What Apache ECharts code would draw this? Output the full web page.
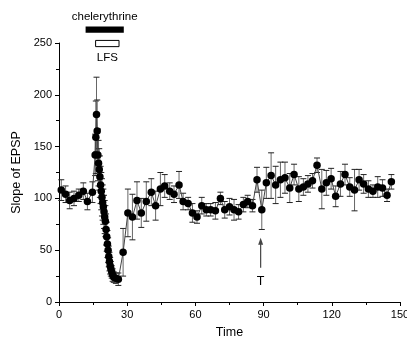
<!DOCTYPE html>
<html>
<head>
<meta charset="utf-8">
<script src="https://cdn.jsdelivr.net/npm/echarts@6/dist/echarts.min.js"></script>
<style>
html, body { margin: 0; padding: 0; background: #fff; }
#chart { width: 407px; height: 341px; }
</style>
</head>
<body>
<div id="chart"></div>
<script>
// time points (min)
var times = [1, 2.9, 4.7, 6.6, 8.7, 10.7, 12.5, 14.7,
    15.9, 16.2, 16.5, 16.8, 17.1, 17.4, 17.7, 18.0, 18.3, 18.6,
    18.9, 19.2, 19.5, 19.8, 20.1, 20.4, 20.7, 21.0, 21.3, 21.6,
    21.9, 22.2, 22.5, 22.8, 23.2, 23.6, 24.1, 25.0, 26.1, 28.2,
    30.3, 32.3, 34.3, 36.2, 38.4, 40.6, 42.5, 44.6, 46.5, 48.7,
    50.6, 52.8, 54.6, 56.8, 58.7, 60.7, 62.8, 64.8, 66.7, 68.8,
    71.0, 72.9, 75.0, 77.0, 79.0, 81.1, 83.0, 85.1, 87.1, 89.2,
    91.2, 93.3, 95.3, 97.4, 99.4, 101.5, 103.4, 105.5, 107.5, 109.5,
    111.5, 113.5, 115.6, 117.6, 119.7, 121.7, 123.8, 125.8, 127.9, 130.0,
    132.0, 134.0, 136.1, 138.1, 140.2, 142.3, 144.3, 146.2];

// slope of EPSP (% of baseline)
var slopes = [108, 104, 98, 100, 103, 107, 97, 106,
    142, 159, 181, 165, 142, 134, 128, 121, 113, 107,
    101, 96, 92, 87, 82, 78, 70, 63, 56, 50,
    44, 39, 35, 32, 29, 26, 24, 23, 22, 48,
    86, 82, 98, 86, 97, 106, 93, 109, 112, 107,
    104, 113, 97, 95, 86, 82, 93, 89, 89, 88,
    100, 89, 92, 89, 87, 94, 97, 93, 118, 89,
    115, 122, 113, 118, 120, 110, 123, 109, 111, 114,
    117, 132, 109, 115, 119, 102, 114, 123, 111, 108,
    118, 114, 109, 107, 111, 110, 103, 116];

// error (+/-)
var errors = [10, 8, 8, 7, 6, 8, 8, 10,
    20, 35, 36, 30, 25, 22, 20, 20, 18, 18,
    18, 17, 17, 16, 16, 15, 15, 14, 13, 12,
    10, 9, 8, 7, 6, 6, 5, 5, 6, 23,
    23, 22, 18, 14, 19, 13, 14, 16, 11, 8,
    8, 13, 8, 6, 9, 6, 8, 6, 6, 8,
    6, 8, 8, 10, 7, 7, 6, 6, 12, 19,
    15, 22, 18, 17, 15, 14, 10, 12, 8, 8,
    7, 7, 19, 12, 10, 10, 12, 10, 9, 20,
    10, 9, 8, 6, 10, 8, 6, 7];

var chart = echarts.init(document.getElementById('chart'));
var font = 'Liberation Sans, Arial, sans-serif';

var points = [];
var bars = [];
for (var i = 0; i < times.length; i++) {
    points.push([times[i], slopes[i]]);
    bars.push([times[i], slopes[i] - errors[i], slopes[i] + errors[i]]);
}

//误差棒
function renderErr(params, api) {
    var x = api.value(0);
    var lo = api.coord([x, api.value(1)]);
    var hi = api.coord([x, api.value(2)]);
    var w = 3;
    return {
        type: 'group',
        children: [
            {type: 'line', shape: {x1: hi[0], y1: hi[1], x2: lo[0], y2: lo[1]}, style: {stroke: '#666', lineWidth: 1}},
            {type: 'line', shape: {x1: hi[0] - w, y1: hi[1], x2: hi[0] + w, y2: hi[1]}, style: {stroke: '#222', lineWidth: 1}},
            {type: 'line', shape: {x1: lo[0] - w, y1: lo[1], x2: lo[0] + w, y2: lo[1]}, style: {stroke: '#222', lineWidth: 1}}
        ]
    };
}

var axisCommon = {
    axisLine: {show: true, lineStyle: {color: '#000', width: 1}},
    axisTick: {show: true, inside: false, length: 4, lineStyle: {color: '#000'}},
    minorTick: {show: true, splitNumber: 2, length: 3, lineStyle: {color: '#000'}},
    splitLine: {show: false},
    axisLabel: {color: '#000', fontSize: 11, fontFamily: font, margin: 7},
    nameLocation: 'middle',
    nameTextStyle: {color: '#000', fontSize: 12.5, fontFamily: font}
};

var option = {
    animation: false,
    grid: {left: 59, right: 7, top: 43, bottom: 39, containLabel: false, outerBoundsMode: 'none'},
    xAxis: Object.assign({}, axisCommon, {
        type: 'value', min: 0, max: 150, interval: 30,
        name: 'Time', nameGap: 24
    }),
    yAxis: Object.assign({}, axisCommon, {
        type: 'value', min: 0, max: 250, interval: 50,
        name: 'Slope of EPSP', nameGap: 25
    }),
    series: [
        {
            type: 'custom',
            renderItem: renderErr,
            data: bars,
            encode: {x: 0, y: [1, 2]},
            clip: false,
            z: 2
        },
        {
            type: 'line',
            data: points,
            symbol: 'circle',
            symbolSize: 7.5,
            itemStyle: {color: '#000'},
            lineStyle: {color: '#444', width: 1},
            z: 3
        }
    ]
};
chart.setOption(option);

// 注释：药物条、LFS条、箭头
function px(x, y) {
    return chart.convertToPixel({gridIndex: 0}, [x, y]);
}
var c1 = px(11.7, 266), c2 = px(28.5, 260);
var l1 = px(16.1, 252.5), l2 = px(26.4, 246.5);
var aTop = px(88.7, 62), aBot = px(88.7, 33), tPos = px(88.7, 20);
chart.setOption({
    graphic: [
        {type: 'rect', shape: {x: c1[0], y: c1[1], width: c2[0] - c1[0], height: c2[1] - c1[1]}, style: {fill: '#000'}},
        {type: 'text', x: (c1[0] + c2[0]) / 2, y: c1[1] - 4, style: {text: 'chelerythrine', fill: '#000', font: '11.5px ' + font, align: 'center', verticalAlign: 'bottom'}},
        {type: 'rect', shape: {x: l1[0], y: l1[1], width: l2[0] - l1[0], height: l2[1] - l1[1]}, style: {fill: '#fff', stroke: '#000', lineWidth: 1}},
        {type: 'text', x: (l1[0] + l2[0]) / 2, y: l2[1] + 5, style: {text: 'LFS', fill: '#000', font: '11.5px ' + font, align: 'center', verticalAlign: 'top'}},
        {type: 'line', shape: {x1: aBot[0], y1: aBot[1], x2: aTop[0], y2: aTop[1] + 3}, style: {stroke: '#444', lineWidth: 1.2}},
        {type: 'polygon', shape: {points: [[aTop[0], aTop[1]], [aTop[0] - 2.5, aTop[1] + 7], [aTop[0] + 2.5, aTop[1] + 7]]}, style: {fill: '#444'}},
        {type: 'text', x: tPos[0], y: tPos[1], style: {text: 'T', fill: '#000', font: '12.5px ' + font, align: 'center', verticalAlign: 'middle'}}
    ]
});
</script>
</body>
</html>
